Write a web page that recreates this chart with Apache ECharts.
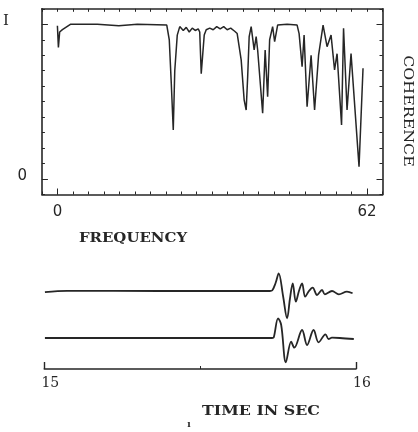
<!DOCTYPE html>
<html>
<head>
<meta charset="utf-8">
<script src="https://cdn.jsdelivr.net/npm/echarts@6/dist/echarts.min.js"></script>
<style>
  html, body { margin: 0; padding: 0; background: #fff; }
  #chart { width: 418px; height: 432px; }
</style>
</head>
<body>
<div id="chart"></div>
<script>
// coherence spectrum (top panel)
const freq = [0, 0.2, 0.45, 1.0, 2.6, 8, 12.3, 16, 21.9, 22.4, 22.8, 23.2, 23.5, 24.0, 24.5,
    25.2, 25.8, 26.4, 27.0, 27.6, 28.2, 28.5, 28.8, 29.4, 29.8, 30.5, 31.2, 31.9, 32.6, 33.3,
    34.0, 34.7, 35.5, 36.0, 36.4, 36.8, 37.4, 37.8, 38.1, 38.4, 38.8, 39.1, 39.4, 39.8, 40.1,
    41.1, 41.6, 42.1, 42.5, 43.1, 43.5, 44.1, 46, 48.0, 48.4, 49.0, 49.4, 50.0, 50.8, 51.5,
    52.3, 53.2, 54.0, 54.8, 55.5, 56.0, 56.9, 57.3, 58.0, 58.8, 60.4, 61.2]
const coherence = [0.99, 0.85, 0.95, 0.965, 1.0, 1.0, 0.99, 1.0, 0.995, 0.9, 0.62, 0.317, 0.7, 0.93, 0.985,
    0.96, 0.98, 0.95, 0.975, 0.96, 0.97, 0.95, 0.68, 0.93, 0.965, 0.975, 0.965, 0.985, 0.97, 0.985,
    0.965, 0.975, 0.955, 0.94, 0.93, 0.77, 0.51, 0.446, 0.66, 0.92, 0.985, 0.974, 0.834, 0.92, 0.834,
    0.425, 0.834, 0.532, 0.9, 0.985, 0.888, 0.995, 1.0, 0.995, 0.94, 0.726, 0.93, 0.467, 0.80, 0.446,
    0.8, 0.995, 0.855, 0.93, 0.705, 0.81, 0.35, 0.974, 0.446, 0.81, 0.08, 0.716]
const freqLabels = [0, 62]
const cohLabels = [0, 1]

// seismograms (bottom panel), amplitude in arbitrary units, up = positive
const time1 = [15.002, 15.073, 15.371, 15.724, 15.731, 15.742, 15.752, 15.766, 15.779, 15.788,
    15.797, 15.807, 15.817, 15.827, 15.837, 15.849, 15.861, 15.875, 15.891, 15.900, 15.923,
    15.945, 15.971, 15.989]
const trace1 = [-1.2, 0.2, 0, 0, 0.5, 8, 17.7, -5, -27.3, -8, 7.7, -10.7, 0, 7.7, -5.7, 0, 3.3,
    -4, 1, -3.3, 0, -3.3, -0.7, -2.3]
const time2 = [15.002, 15.5, 15.731, 15.736, 15.750, 15.760, 15.775, 15.792, 15.802, 15.827,
    15.843, 15.864, 15.880, 15.902, 15.912, 15.923, 15.948, 15.993]
const trace2 = [0, 0, 0, 0.5, 19.7, 13, -24.3, -3.7, -9.7, 8, -7, 8, -4.3, 3.7, -1, 0.3, 0, -1]
const timeLabels = [15, 16]

const ink = '#262626'
const serif = 'DejaVu Serif'

const pairs = (xs, ys) => xs.map((x, i) => [x, ys[i]])

const getOption = () => {
    const hidden = {show: false}
    const noLine = {show: false, onZero: false}
    const boxX = {
        gridIndex: 0, type: 'value', min: -3.1, max: 65.1, interval: 3.1,
        axisLine: {show: true, onZero: false, lineStyle: {color: ink, width: 1.6}},
        axisTick: {show: true, inside: true, length: 3, lineStyle: {color: ink}},
        axisLabel: hidden, splitLine: hidden
    }
    const boxY = {
        gridIndex: 0, type: 'value', min: -0.1, max: 1.1, interval: 0.1,
        axisLine: {show: true, onZero: false, lineStyle: {color: ink, width: 1.6}},
        axisTick: {show: true, inside: true, length: 3, lineStyle: {color: ink}},
        axisLabel: hidden, splitLine: hidden
    }
    const bigTicksY = (pos) => ({
        gridIndex: 0, type: 'value', min: -0.1, max: 1.1, position: pos,
        axisLine: noLine, splitLine: hidden,
        axisTick: {show: true, inside: true, length: 6, customValues: cohLabels, lineStyle: {color: ink}},
        axisLabel: hidden
    })
    return {
        backgroundColor: '#fff',
        animation: false,
        grid: [
            {left: 39.4, right: 35.5, top: 8.8, bottom: 237.5},
            {left: 44.3, right: 62, top: 260, height: 62},
            {left: 44.3, right: 62, top: 307, height: 62}
        ],
        xAxis: [
            Object.assign({}, boxX, {position: 'bottom'}),
            {
                gridIndex: 0, type: 'value', min: -3.1, max: 65.1, position: 'bottom',
                axisLine: noLine, splitLine: hidden,
                axisTick: {show: true, inside: true, length: 6, customValues: freqLabels, lineStyle: {color: ink}},
                axisLabel: {
                    show: true, customValues: freqLabels, margin: 10,
                    color: ink, fontFamily: 'DejaVu Sans', fontSize: 15
                }
            },
            Object.assign({}, boxX, {position: 'top'}),
            {gridIndex: 1, type: 'value', min: 15, max: 16, show: false},
            {
                gridIndex: 2, type: 'value', min: 15, max: 16, interval: 1, position: 'bottom',
                axisLine: {show: true, onZero: false, lineStyle: {color: ink, width: 1.6}},
                axisTick: {show: true, inside: true, length: 7, lineStyle: {color: ink, width: 1.4}},
                minorTick: {show: true, splitNumber: 2, length: 3, lineStyle: {color: ink}},
                axisLabel: {
                    show: true, margin: 7, padding: [0, 0, 0, 12],
                    color: ink, fontFamily: serif, fontSize: 14,
                    formatter: (v) => timeLabels.includes(v) ? String(v) : ''
                },
                splitLine: hidden
            }
        ],
        yAxis: [
            Object.assign({}, boxY, {position: 'left'}),
            Object.assign(bigTicksY('left'), {
                axisLabel: {
                    show: true, customValues: cohLabels, margin: 15,
                    color: ink, fontFamily: serif, fontSize: 15,
                    formatter: (v) => v === 1 ? '{one|I}' : '{zero|0}',
                    rich: {
                        one: {fontFamily: serif, fontSize: 15, color: ink, padding: [0, 18, 6, 0]},
                        zero: {fontFamily: 'DejaVu Sans', fontSize: 15, color: ink, padding: [0, 0, 6, 0]}
                    }
                }
            }),
            Object.assign({}, boxY, {position: 'right'}),
            bigTicksY('right'),
            {gridIndex: 1, type: 'value', min: -31, max: 31, show: false},
            {gridIndex: 2, type: 'value', min: -31, max: 31, show: false}
        ],
        graphic: [
            {
                type: 'text', x: 133, y: 238.5, scaleX: 1.15,
                style: {text: 'FREQUENCY', x: 0, y: 0, align: 'center', verticalAlign: 'middle',
                    fill: ink, font: 'bold 13px "DejaVu Serif"'}
            },
            {
                type: 'text', x: 261, y: 411.5, scaleX: 1.22,
                style: {text: 'TIME IN SEC', x: 0, y: 0, align: 'center', verticalAlign: 'middle',
                    fill: ink, font: 'bold 13px "DejaVu Serif"'}
            },
            {
                type: 'text', x: 407, y: 111, rotation: -Math.PI / 2, scaleX: 1.22,
                style: {text: 'COHERENCE', x: 0, y: 0, align: 'center', verticalAlign: 'middle',
                    fill: ink, font: '13px "DejaVu Serif"'}
            },
            {
                type: 'text', x: 189, y: 425,
                style: {text: 'ı', x: 0, y: 0, align: 'center', verticalAlign: 'middle',
                    fill: ink, font: 'bold 9px "DejaVu Serif"'}
            }
        ],
        series: [
            {
                name: 'coherence', type: 'line', xAxisIndex: 0, yAxisIndex: 0,
                data: pairs(freq, coherence), showSymbol: false,
                lineStyle: {color: ink, width: 1.5}
            },
            {
                name: 'trace 1', type: 'line', xAxisIndex: 3, yAxisIndex: 4,
                data: pairs(time1, trace1), showSymbol: false, smooth: 0.35,
                lineStyle: {color: ink, width: 1.8}
            },
            {
                name: 'trace 2', type: 'line', xAxisIndex: 4, yAxisIndex: 5,
                data: pairs(time2, trace2), showSymbol: false, smooth: 0.35,
                lineStyle: {color: ink, width: 1.8}
            }
        ]
    }
}

const initChart = () => {
    const chart = echarts.init(document.getElementById('chart'), null, {renderer: 'canvas'})
    chart.setOption(getOption())
    return chart
}

initChart()
</script>
</body>
</html>
